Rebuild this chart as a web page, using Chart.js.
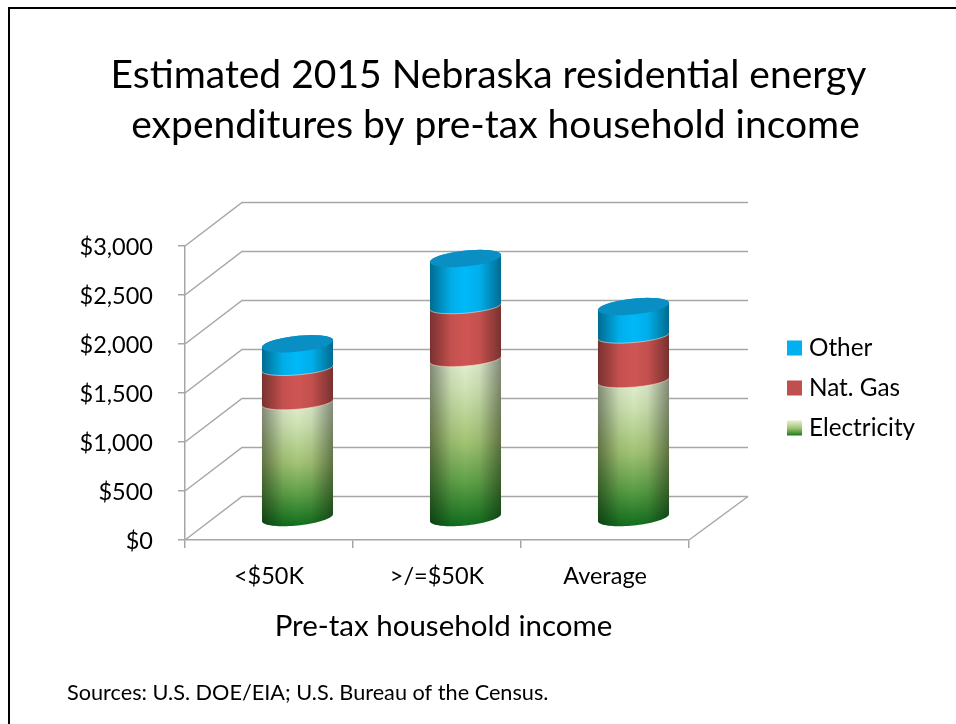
<!DOCTYPE html>
<html>
<head>
<meta charset="utf-8">
<title>Nebraska residential energy expenditures</title>
<script src="https://cdn.jsdelivr.net/npm/chart.js@4"></script>
<style>
    html, body { margin: 0; padding: 0; background: #fff; }
    canvas { display: block; }
</style>
</head>
<body>
<canvas id="chart" width="956" height="724"></canvas>
<script>
// values
const categories = ['<$50K', '>/=$50K', 'Average'];
const electricity = [1180, 1620, 1405];
const natGas = [350, 540, 455];
const other = [250, 490, 300];
const yTicks = [0, 500, 1000, 1500, 2000, 2500, 3000];

const titleLines = ['Estimated 2015 Nebraska residential energy', 'expenditures by pre-tax household income'];
const xAxisTitle = 'Pre-tax household income';
const sourceNote = 'Sources: U.S. DOE/EIA; U.S. Bureau of the Census.';

const FONT = 'Lato, "Open Sans", sans-serif';
const GRID = '#a6a6a6';
// 3D box depth, in pixels
const DEPTH_X = 57;
const DEPTH_Y = 43.5;
// cylinder ellipse: shear along x, half height at the ends and at the seams
const ELL_K = 14.5;
const ELL_END = 8.7;
const ELL_SEAM = 7.2;

function electricityGradient(ctx, top, bottom) {
    const g = ctx.createLinearGradient(0, top, 0, bottom);
    g.addColorStop(0, '#e6f2d6');
    g.addColorStop(0.2, '#cfe3b4');
    g.addColorStop(0.5, '#a3c474');
    g.addColorStop(0.75, '#5c9f46');
    g.addColorStop(1, '#0f6e1c');
    return g;
}

function arcTo(ctx, cx, cy, r, b, from, to) {
    for (let i = 0; i <= 40; i++) {
        const t = from + (to - from) * i / 40;
        ctx.lineTo(cx + r * Math.cos(t) + ELL_K * Math.sin(t), cy - b * Math.sin(t));
    }
}

function drawSegment(ctx, el, ds, index, count) {
    const r = el.width / 2;
    const cx = el.x + DEPTH_X / 2;
    const yTop = el.y - DEPTH_Y / 2;
    const yBase = el.base - DEPTH_Y / 2;
    const tR = Math.atan2(ELL_K, r);
    const tL = tR + Math.PI;
    const half = Math.hypot(r, ELL_K);
    const bBase = index === 0 ? ELL_END : ELL_SEAM;
    const bTop = index === count - 1 ? ELL_END : ELL_SEAM;

    ctx.beginPath();
    arcTo(ctx, cx, yBase, r, bBase, tL, tR + 2 * Math.PI);
    arcTo(ctx, cx, yTop, r, bTop, tR, tL);
    ctx.closePath();

    if (ds.label === 'Electricity') {
        ctx.fillStyle = electricityGradient(ctx, yTop - 4, yBase + 9);
    } else {
        ctx.fillStyle = ds.bodyColor;
    }
    ctx.fill();

    // darker towards both sides, so it reads round
    const shade = ctx.createLinearGradient(cx - half, 0, cx + half, 0);
    shade.addColorStop(0, 'rgba(0,0,0,0.42)');
    shade.addColorStop(0.3, 'rgba(0,0,0,0.06)');
    shade.addColorStop(0.5, 'rgba(0,0,0,0)');
    shade.addColorStop(0.7, 'rgba(0,0,0,0.06)');
    shade.addColorStop(1, 'rgba(0,0,0,0.42)');
    ctx.fillStyle = shade;
    ctx.fill();

    // thin pale seam where this segment sits on the one below
    if (index > 0) {
        ctx.beginPath();
        arcTo(ctx, cx, yBase, r, bBase, tL, tR + 2 * Math.PI);
        ctx.strokeStyle = 'rgba(255,235,215,0.55)';
        ctx.lineWidth = 1;
        ctx.stroke();
    }

    if (index === count - 1) {
        ctx.beginPath();
        arcTo(ctx, cx, yTop, r, bTop, 0, 2 * Math.PI);
        ctx.closePath();
        ctx.fillStyle = '#0a8fc4';
        ctx.fill();
    }
}

// back wall and side wall of the 3D box
const wallPlugin = {
    id: 'walls',
    beforeDatasetsDraw(chart) {
        const ctx = chart.ctx;
        const xs = chart.scales.x;
        const ys = chart.scales.y;
        ctx.save();
        ctx.strokeStyle = GRID;
        ctx.lineWidth = 1.5;
        yTicks.forEach(function(v) {
            const y = ys.getPixelForValue(v);
            ctx.beginPath();
            ctx.moveTo(xs.left, y);
            ctx.lineTo(xs.left + DEPTH_X, y - DEPTH_Y);
            ctx.lineTo(xs.right + DEPTH_X + 2, y - DEPTH_Y);
            ctx.stroke();
        });
        const y0 = ys.getPixelForValue(0);
        ctx.beginPath();
        ctx.moveTo(xs.right, y0);
        ctx.lineTo(xs.right + DEPTH_X + 2, y0 - DEPTH_Y);
        ctx.stroke();
        ctx.restore();
    }
};

// bars are replaced by stacked cylinders, placed from the bar elements
const cylinderPlugin = {
    id: 'cylinders',
    beforeDatasetsDraw(chart) {
        const ctx = chart.ctx;
        const sets = chart.data.datasets;
        ctx.save();
        sets.forEach(function(ds, i) {
            chart.getDatasetMeta(i).data.forEach(function(el) {
                drawSegment(ctx, el, ds, i, sets.length);
            });
        });
        ctx.restore();
        return false;
    }
};

// slide frame, title, axis title, legend, source line
const slidePlugin = {
    id: 'slide',
    afterDraw(chart) {
        const ctx = chart.ctx;
        ctx.save();
        ctx.fillStyle = '#000';
        ctx.fillRect(8, 7, 948, 2);
        ctx.fillRect(8, 7, 2, 717);

        ctx.textBaseline = 'middle';
        ctx.textAlign = 'center';
        ctx.font = '39px ' + FONT;
        ctx.fillText(titleLines[0], 488.5, 75);
        ctx.fillText(titleLines[1], 495.5, 125);

        ctx.font = '29.5px ' + FONT;
        ctx.fillText(xAxisTitle, 443.5, 626);

        ctx.textAlign = 'left';
        ctx.font = '21.7px ' + FONT;
        ctx.fillText(sourceNote, 67, 693);

        ctx.font = '24.3px ' + FONT;
        const rows = chart.data.datasets.slice().reverse();
        rows.forEach(function(ds, i) {
            const y = 348 + i * 40;
            ctx.fillStyle = ds.label === 'Electricity' ? electricityGradient(ctx, y - 8, y + 8) : ds.backgroundColor;
            ctx.fillRect(787, y - 7.5, 15, 15);
            ctx.fillStyle = '#000';
            ctx.fillText(ds.label, 809, y);
        });
        ctx.restore();
    }
};

new Chart(document.getElementById('chart'), {
    type: 'bar',
    data: {
        labels: categories,
        datasets: [
            { label: 'Electricity', data: electricity, backgroundColor: '#9bbb59' },
            { label: 'Nat. Gas', data: natGas, backgroundColor: '#c0504d', bodyColor: '#cf5553' },
            { label: 'Other', data: other, backgroundColor: '#00b0f0', bodyColor: '#00b9f8' }
        ]
    },
    options: {
        responsive: false,
        animation: false,
        devicePixelRatio: 1,
        categoryPercentage: 1,
        barPercentage: 0.386,
        layout: { padding: { top: 246, right: 267, bottom: 0, left: 0 } },
        plugins: { legend: { display: false }, title: { display: false }, tooltip: { enabled: false } },
        scales: {
            x: {
                stacked: true,
                afterFit: function(scale) { scale.height = 184; },
                grid: { color: GRID, lineWidth: 1.5, drawOnChartArea: false, tickLength: 8 },
                border: { color: GRID, width: 1.5 },
                ticks: { color: '#000', padding: 14, font: { family: FONT, size: 23.5 } }
            },
            y: {
                stacked: true,
                min: 0,
                max: 3000,
                afterFit: function(scale) { scale.width = 185; },
                afterBuildTicks: function(scale) { scale.ticks = yTicks.map(function(v) { return { value: v }; }); },
                grid: { color: GRID, lineWidth: 1.5, drawOnChartArea: false, tickLength: 7 },
                border: { color: GRID, width: 1.5 },
                ticks: {
                    color: '#000',
                    padding: 25,
                    labelOffset: 1.5,
                    font: { family: FONT, size: 23.5 },
                    callback: function(v) { return '$' + v.toLocaleString('en-US'); }
                }
            }
        }
    },
    plugins: [wallPlugin, cylinderPlugin, slidePlugin]
});
</script>
</body>
</html>
